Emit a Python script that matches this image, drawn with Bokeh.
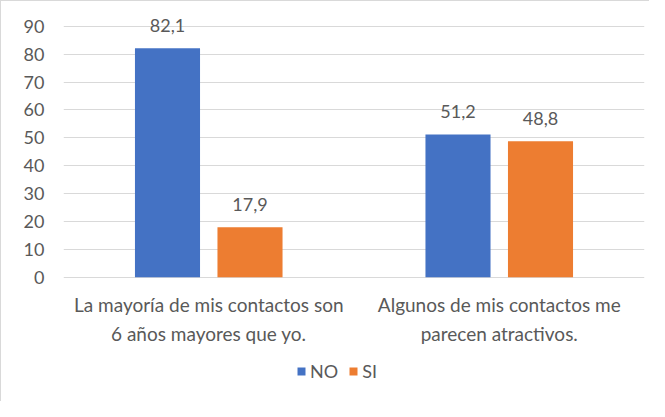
from bokeh.plotting import figure
from bokeh.models import ColumnDataSource, FactorRange, Legend, LegendItem, FixedTicker
from bokeh.transform import dodge
from bokeh.core.properties import value
from bokeh.embed import file_html
from bokeh.resources import INLINE

categories = ["La mayoría de mis contactos son\n6 años mayores que yo.",
              "Algunos de mis contactos me\nparecen atractivos."]
series_names = ["NO", "SI"]
no_values = [82.1, 51.2]
si_values = [17.9, 48.8]
y_ticks = [0, 10, 20, 30, 40, 50, 60, 70, 80, 90]
colors = ["#4472C4", "#ED7D31"]

def fmt(v):
    return f"{v:.1f}".replace(".", ",")

src = ColumnDataSource(dict(
    cat=categories,
    no=no_values,
    si=si_values,
    base=[0] * len(categories),
    no_lbl=[fmt(v) for v in no_values],
    si_lbl=[fmt(v) for v in si_values],
))

FONT = "Lato"
GREY = "#595959"
FS = "18px"

p = figure(width=649, height=401, x_range=FactorRange(*categories, range_padding=0),
           y_range=(-42.76, 96), output_backend="svg", toolbar_location=None,
           min_border_left=62, min_border_right=6, min_border_top=8, min_border_bottom=6)
p.styles = {"border-left": "1px solid #d9d9d9", "border-top": "1px solid #d9d9d9"}
p.outline_line_color = None

r_no = p.vbar(x=dodge("cat", -0.142, range=p.x_range), top="no", width=0.224, source=src,
              fill_color=colors[0], line_color=None)
r_si = p.vbar(x=dodge("cat", 0.142, range=p.x_range), top="si", width=0.224, source=src,
              fill_color=colors[1], line_color=None)

p.text(x=dodge("cat", -0.142, range=p.x_range), y="no", text="no_lbl", source=src,
       text_align="center", text_baseline="bottom", y_offset=-16,
       text_font=value(FONT), text_font_size=FS, text_color=GREY)
p.text(x=dodge("cat", 0.142, range=p.x_range), y="si", text="si_lbl", source=src,
       text_align="center", text_baseline="bottom", y_offset=-16,
       text_font=value(FONT), text_font_size=FS, text_color=GREY)

# category labels
p.text(x="cat", y="base", text="cat", source=src, text_align="center", text_baseline="top",
       y_offset=16, text_line_height=1.23,
       text_font=value(FONT), text_font_size="19px", text_color=GREY)

p.xaxis.visible = False
p.yaxis.ticker = FixedTicker(ticks=y_ticks)
p.ygrid.grid_line_color = "#D9D9D9"
p.ygrid.grid_line_width = 1
p.xgrid.grid_line_color = None
ax = p.yaxis[0]
ax.axis_line_color = None
ax.major_tick_line_color = None
ax.minor_tick_line_color = None
ax.major_label_text_font = FONT
ax.major_label_text_font_size = FS
ax.major_label_text_color = GREY
ax.major_label_standoff = 13

legend = Legend(items=[LegendItem(label=series_names[0], renderers=[r_no]),
                       LegendItem(label=series_names[1], renderers=[r_si])],
                orientation="horizontal", location=(233, 14),
                glyph_width=10, glyph_height=10, label_standoff=4, spacing=10,
                padding=0, margin=0, border_line_color=None, background_fill_alpha=0,
                label_text_font=FONT, label_text_font_size=FS, label_text_color=GREY)
p.add_layout(legend, "center")

open("out.html", "w").write(file_html(p, INLINE))
